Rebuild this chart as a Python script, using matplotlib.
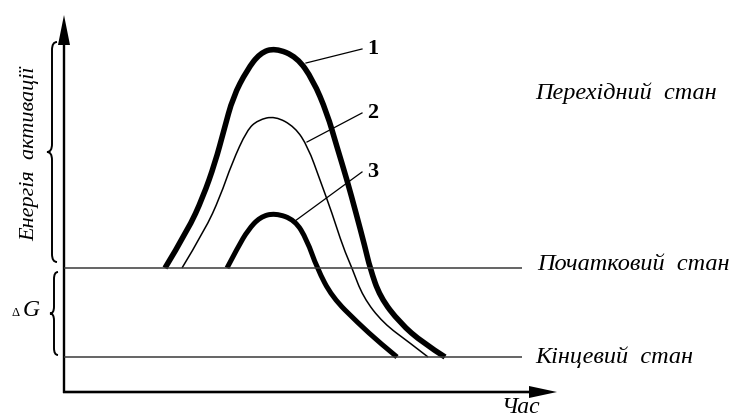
import matplotlib
matplotlib.use("Agg")
import matplotlib.pyplot as plt
from matplotlib.path import Path
from matplotlib.patches import PathPatch, FancyArrow

# ---- data (time units, energy units) ----
level_initial = 124
level_final = 35

c1_x = [101, 124, 139, 151, 160, 169, 183, 196, 211, 233, 249, 263, 273, 283, 292, 301, 306, 316, 336, 359, 381]
c1_y = [124, 162, 195, 229, 262, 295, 322, 339, 344, 335, 312, 279, 245, 212, 179, 145, 124, 95, 69, 49, 35]

c2_x = [118, 141, 156, 168, 183, 194, 211, 231, 244, 256, 268, 279, 288, 299, 319, 346, 364]
c2_y = [124, 162, 195, 229, 262, 272, 276, 265, 245, 212, 179, 145, 124, 95, 69, 49, 35]

c3_x = [163, 174, 184, 196, 211, 231, 243, 253, 268, 294, 316, 333]
c3_y = [124, 145, 162, 175, 179, 172, 152, 124, 95, 69, 49, 35]

curve_labels = ["1", "2", "3"]
leader_start = [(242, 329), (243, 250), (231, 171)]
leader_end = [(298, 343), (298, 279), (298, 220)]

state_labels = ["Перехідний  стан", "Початковий  стан", "Кінцевий  стан"]
y_label = "Енергія  активації"
x_label = "Час"

SERIF = ["Liberation Serif", "DejaVu Serif"]

fig = plt.figure(figsize=(7.35, 4.18), dpi=100)
ax = fig.add_axes([0, 0, 1, 1])
ax.set_xlim(-64, 671)
ax.set_ylim(-26, 392)
ax.axis("off")


def smooth_path(xs, ys):
    pts = list(zip(xs, ys))
    verts = [pts[0]]
    codes = [Path.MOVETO]
    for i in range(1, len(pts) - 1):
        mid = ((pts[i][0] + pts[i + 1][0]) / 2, (pts[i][1] + pts[i + 1][1]) / 2)
        if i == len(pts) - 2:
            mid = pts[-1]
        verts += [pts[i], mid]
        codes += [Path.CURVE3, Path.CURVE3]
    return Path(verts, codes)


# level lines
ax.plot([0, 458], [level_initial, level_initial], color="#3a3a3a", lw=1.1, solid_capstyle="butt")
ax.plot([0, 458], [level_final, level_final], color="#3a3a3a", lw=1.1, solid_capstyle="butt")

# curves
for xs, ys, lw in [(c1_x, c1_y, 4.0), (c2_x, c2_y, 1.1), (c3_x, c3_y, 3.6)]:
    ax.add_patch(PathPatch(smooth_path(xs, ys), fill=False, lw=lw, edgecolor="black",
                           capstyle="butt", joinstyle="round"))

# leaders and labels
for lab, s, e in zip(curve_labels, leader_start, leader_end):
    ax.plot([s[0], e[0]], [s[1], e[1]], color="black", lw=0.9)
    ax.text(e[0] + 5, e[1], lab, fontsize=16, fontweight="bold", family=SERIF,
            ha="left", va="center")

# axes arrows
ax.add_patch(FancyArrow(0, -1, 0, 378, width=2.4, head_width=12, head_length=30,
                        length_includes_head=True, color="black", lw=0))
ax.add_patch(FancyArrow(-1, 0, 494, 0, width=2.6, head_width=12, head_length=28,
                        length_includes_head=True, color="black", lw=0))


def brace(xs, y0, y1, a, d):
    ym = (y0 + y1) / 2
    verts = [(xs + a, y1), (xs, y1), (xs, y1 - d), (xs, ym + d),
             (xs, ym), (xs - a, ym), (xs, ym), (xs, ym - d),
             (xs, y0 + d), (xs, y0), (xs + a, y0)]
    codes = [Path.MOVETO, Path.CURVE3, Path.CURVE3, Path.LINETO,
             Path.CURVE3, Path.CURVE3, Path.CURVE3, Path.CURVE3,
             Path.LINETO, Path.CURVE3, Path.CURVE3]
    ax.add_patch(PathPatch(Path(verts, codes), fill=False, lw=1.4, edgecolor="black"))


brace(-12, level_initial + 6, 350, 5, 8)
brace(-10, level_final + 2, level_initial - 4, 4, 7)

# texts
ax.text(-34, 238, y_label, rotation=90, fontsize=16, style="italic", family=SERIF,
        ha="center", va="center")
ax.text(-48, 76, "Δ", fontsize=9, family=SERIF, ha="center", va="baseline")
ax.text(-33, 76, "G", fontsize=17, style="italic", family=SERIF, ha="center", va="baseline")

ax.text(471, 299, state_labels[0], fontsize=17.5, style="italic", family=SERIF, ha="left", va="center")
ax.text(473, level_initial + 3, state_labels[1], fontsize=17.5, style="italic", family=SERIF, ha="left", va="center")
ax.text(471, level_final, state_labels[2], fontsize=17.5, style="italic", family=SERIF, ha="left", va="center")
ax.text(457, -26, x_label, fontsize=17, style="italic", family=SERIF, ha="center", va="bottom")

fig.savefig("out.png", dpi=100)
